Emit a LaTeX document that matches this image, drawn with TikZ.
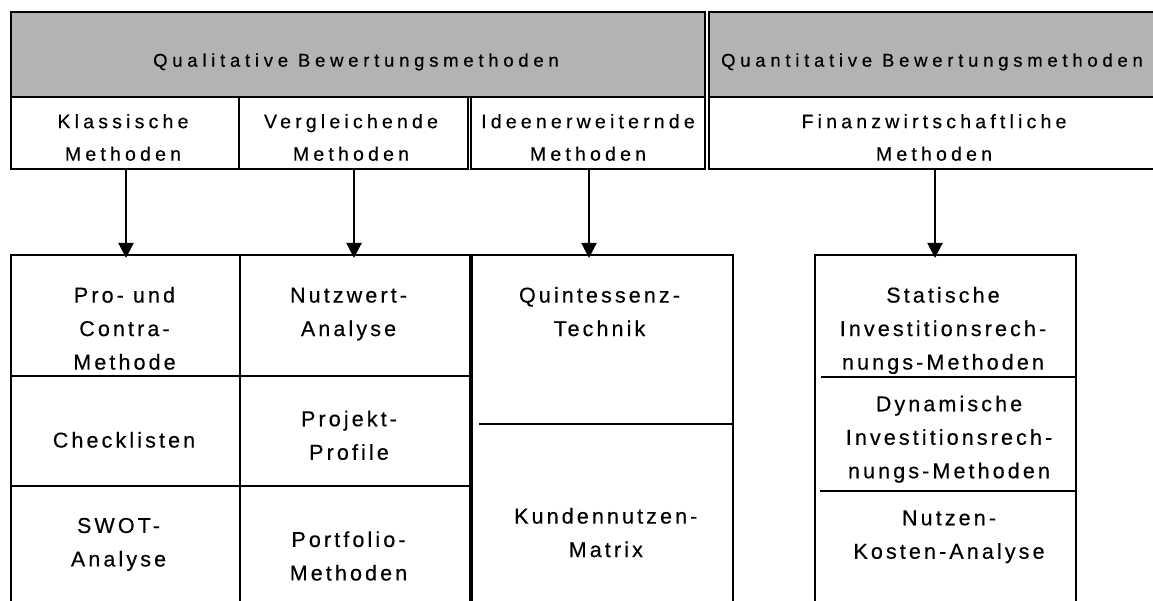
\documentclass[tikz,border=0pt]{standalone}
\usepackage{fontspec}
\usetikzlibrary{arrows.meta}
% Arial-metric sans with the wide tracking of the chart
\newfontfamily\headfont[LetterSpace=25.7,FakeBold=0.4]{Liberation Sans}
\newfontfamily\groupfont[LetterSpace=21.5,FakeBold=0.4]{Liberation Sans}
\newfontfamily\itemfont[LetterSpace=14.5,FakeBold=0.4]{Liberation Sans}
\definecolor{bandgray}{RGB}{179,179,179}

\begin{document}
\begin{tikzpicture}[x=1bp,y=-1bp,
  cell/.style={draw=black, line width=2bp, inner sep=0, outer sep=0, anchor=north west},
  band/.style={cell, fill=bandgray},
  headtext/.style={font=\headfont\fontsize{18.5bp}{32bp}\selectfont, inner sep=0, anchor=base},
  grouptext/.style={font=\groupfont\fontsize{19.5bp}{32.5bp}\selectfont, inner sep=0,
    anchor=north, align=center},
  itemtext/.style={font=\itemfont\fontsize{21.5bp}{33.5bp}\selectfont, inner sep=0,
    anchor=north, align=center},
  divider/.style={line width=2bp},
  arr/.style={line width=2bp, -{Triangle[width=15bp,length=15bp]}, shorten >=-3bp}
]
\useasboundingbox (0,0) rectangle (1153,601);
\clip (0,0) rectangle (1153,601);

% grey header band
\node[band, minimum width=694bp, minimum height=85bp] (qual) at (11,12) {};
\node[band, minimum width=451bp, minimum height=85bp] (quant) at (709,12) {};
\node[headtext] (qualT) at (356,66.7) {Qualitative Bewertungsmethoden};
\node[headtext] (quantT) at (932,66.7) {Quantitative Bewertungsmethoden};

% method groups
\node[cell, minimum width=228bp, minimum height=72bp] (kl) at (11,97) {};
\node[cell, minimum width=229bp, minimum height=72bp] (ve) at (239,97) {};
\node[cell, minimum width=234bp, minimum height=72bp] (id) at (471,97) {};
\node[cell, minimum width=451bp, minimum height=72bp] (fi) at (709,97) {};
\node[grouptext] (klT) at (123,105.25) {\strut Klassische\\Methoden};
\node[grouptext] (veT) at (351,105.25) {\strut Vergleichende\\Methoden};
\node[grouptext] (idT) at (588,105.25) {\strut Ideenerweiternde\\Methoden};
\node[grouptext] (fiT) at (934,105.25) {\strut Finanzwirtschaftliche\\Methoden};

% classical and comparative methods
\node[cell, minimum width=229bp, minimum height=121bp] (pro) at (11,255) {};
\node[cell, minimum width=230bp, minimum height=121bp] (nutz) at (240,255) {};
\node[cell, minimum width=229bp, minimum height=110bp] (check) at (11,376) {};
\node[cell, minimum width=230bp, minimum height=110bp] (proj) at (240,376) {};
\node[cell, minimum width=229bp, minimum height=134bp] (swot) at (11,486) {};
\node[cell, minimum width=230bp, minimum height=134bp] (port) at (240,486) {};

% idea-extending and financial methods
\node[cell, minimum width=261bp, minimum height=365bp] (quint) at (472,255) {};
\node[cell, minimum width=261bp, minimum height=365bp] (stat) at (815,255) {};
\draw[divider] (479,424) -- (733,424);
\draw[divider] (821,377) -- (1076,377);
\draw[divider] (820,491) -- (1076,491);

\node[itemtext] (proT) at (124.5,278.9) {\strut Pro- und\\Contra-\\Methode};
\node[itemtext] (checkT) at (124,423.9) {\strut Checklisten};
\node[itemtext] (swotT) at (118.5,509.3) {\strut SWOT-\\Analyse};
\node[itemtext] (nutzT) at (348.5,278.9) {\strut Nutzwert-\\Analyse};
\node[itemtext] (projT) at (349,402.6) {\strut Projekt-\\Profile};
\node[itemtext] (portT) at (348.5,523.3) {\strut Portfolio-\\Methoden};
\node[itemtext] (quintT) at (599.5,278.9) {\strut Quintessenz-\\Technik};
\node[itemtext] (kundT) at (605.8,499.9) {\strut Kundennutzen-\\Matrix};
\node[itemtext] (statT) at (943,278.9) {\strut Statische\\Investitionsrech-\\nungs-Methoden};
\node[itemtext] (dynT) at (949,387.6) {\strut Dynamische\\Investitionsrech-\\nungs-Methoden};
\node[itemtext] (nkT) at (949,501.6) {\strut Nutzen-\\Kosten-Analyse};

% group arrows
\draw[arr] ([xshift=1bp]kl.south) -- ([xshift=1bp]kl.south |- pro.north);
\draw[arr] ([xshift=0.5bp]ve.south) -- ([xshift=0.5bp]ve.south |- nutz.north);
\draw[arr] ([xshift=1bp]id.south) -- ([xshift=1bp]id.south |- quint.north);
\draw[arr] ([xshift=0.5bp]fi.south) -- ([xshift=0.5bp]fi.south |- stat.north);
\end{tikzpicture}
\end{document}
